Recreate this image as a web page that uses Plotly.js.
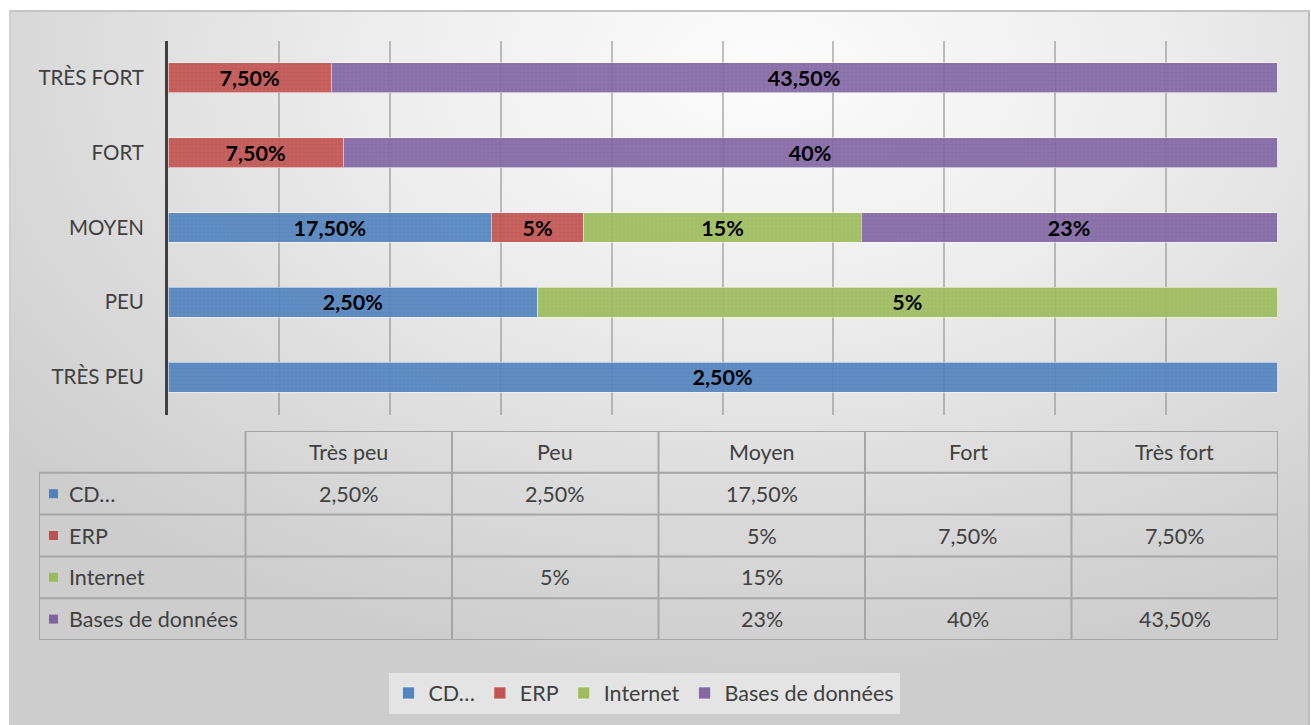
<!DOCTYPE html>
<html>
<head>
<meta charset="utf-8">
<script src="https://cdn.plot.ly/plotly-3.0.1.min.js"></script>
<style>
  html, body { margin: 0; padding: 0; background: #ffffff; width: 1311px; height: 725px; overflow: hidden; }
  #bg { position: absolute; left: 9px; top: 10px; width: 1297px; height: 715px;
        border-top: 2px solid #c6c6c6; border-left: 2px solid #cfcfcf; border-right: 2px solid #bdbdbd;
        background: radial-gradient(ellipse 75% 85% at 58% 8%, #fcfcfc 0%, #ededed 40%, #dcdcdc 70%, #cdcdcd 100%); }
  #chart { position: absolute; left: 0; top: 0; width: 1311px; height: 725px; }
</style>
</head>
<body>
<div id="bg"></div>
<div id="chart"></div>
<script>
// ---- data ----
const categories = ['Très peu', 'Peu', 'Moyen', 'Fort', 'Très fort'];
const axisLabels = ['TRÈS PEU', 'PEU', 'MOYEN', 'FORT', 'TRÈS FORT'];
const seriesNames = ['CD…', 'ERP', 'Internet', 'Bases de données'];
const cdValues       = [2.5, 2.5, 17.5, null, null];
const erpValues      = [null, null, 5, 7.5, 7.5];
const internetValues = [null, 5, 15, null, null];
const bddValues      = [null, null, 22.5, 40, 43.5];
const cdLabels       = ['2,50%', '2,50%', '17,50%', '', ''];
const erpLabels      = ['', '', '5%', '7,50%', '7,50%'];
const internetLabels = ['', '5%', '15%', '', ''];
const bddLabels      = ['', '', '23%', '40%', '43,50%'];
const seriesColors = ['#4F81BD', '#C0504D', '#9BBB59', '#8064A2'];

const allValues = [cdValues, erpValues, internetValues, bddValues];
const allLabels = [cdLabels, erpLabels, internetLabels, bddLabels];

const FONT = 'Lato, "Open Sans", "DejaVu Sans", sans-serif';
const TXT = '#404040';
const FS = 21.5;

const traces = [];
allValues.forEach((vals, s) => {
  traces.push({
    type: 'bar', orientation: 'h',
    name: seriesNames[s],
    y: axisLabels, x: vals,
    text: allLabels[s], texttemplate: '%{text}',
    textposition: 'inside', insidetextanchor: 'middle', constraintext: 'none',
    textfont: { family: FONT, size: FS, color: '#000000', weight: 'bold' },
    marker: {
      color: seriesColors[s], opacity: 0.92,
      line: { color: 'rgba(255,255,255,0.55)', width: 1 },
      pattern: { shape: '+', size: 4, solidity: 0.15, fgcolor: 'rgba(255,255,255,0.35)', fillmode: 'overlay' }
    },
    hoverinfo: 'skip',
    xaxis: 'x', yaxis: 'y'
  });
});

// legend keys inside the data table
traces.push({
  type: 'scatter', mode: 'markers',
  x: seriesNames.map(() => 0.07),
  y: seriesNames.map((_, i) => i + 1.5),
  marker: { symbol: 'square', size: 9, color: seriesColors, line: { width: 0 } },
  showlegend: false, hoverinfo: 'skip',
  xaxis: 'x2', yaxis: 'y2'
});

// ---- data table (shapes + annotations on x2/y2) ----
const nCols = categories.length + 1;
const nRows = seriesNames.length + 1;
const shapes = [];
const annotations = [];
const gridLine = { color: '#a6a6a6', width: 2 };
for (let r = 0; r <= nRows; r++) {
  shapes.push({ type: 'line', xref: 'x2', yref: 'y2', x0: r === 0 ? 1 : 0, x1: nCols, y0: r, y1: r, line: gridLine, layer: 'above' });
}
for (let c = 0; c <= nCols; c++) {
  shapes.push({ type: 'line', xref: 'x2', yref: 'y2', x0: c, x1: c, y0: c === 0 ? 1 : 0, y1: nRows, line: gridLine, layer: 'above' });
}
categories.forEach((cat, i) => {
  annotations.push({ xref: 'x2', yref: 'y2', x: i + 1.5, y: 0.5, text: cat, showarrow: false,
    font: { family: FONT, size: FS, color: TXT }, xanchor: 'center', yanchor: 'middle' });
});
seriesNames.forEach((nm, s) => {
  annotations.push({ xref: 'x2', yref: 'y2', x: 0.135, y: s + 1.5, text: nm, showarrow: false,
    font: { family: FONT, size: FS, color: TXT }, xanchor: 'left', yanchor: 'middle' });
  allValues[s].forEach((v, i) => {
    if (v === null) return;
    annotations.push({ xref: 'x2', yref: 'y2', x: i + 1.5, y: s + 1.5, text: allLabels[s][i], showarrow: false,
      font: { family: FONT, size: FS, color: TXT }, xanchor: 'center', yanchor: 'middle' });
  });
});

const W = 1311, H = 725;
const layout = {
  width: W, height: H,
  margin: { l: 0, r: 0, t: 0, b: 0 },
  paper_bgcolor: 'rgba(0,0,0,0)', plot_bgcolor: 'rgba(0,0,0,0)',
  barmode: 'stack', barnorm: 'percent', bargap: 0.6,
  font: { family: FONT, color: TXT, size: FS },
  xaxis: {
    domain: [168 / W, 1277 / W], range: [0, 100], dtick: 10, tick0: 0,
    showticklabels: false, showgrid: true, gridcolor: 'rgba(140,140,140,0.55)', gridwidth: 2,
    zeroline: false, showline: false, fixedrange: true
  },
  yaxis: {
    domain: [(H - 414.5) / H, (H - 40.5) / H],
    type: 'category', categoryorder: 'array', categoryarray: axisLabels,
    showline: true, linecolor: '#404040', linewidth: 3,
    ticks: '', ticklabelstandoff: 17,
    tickfont: { family: FONT, size: FS - 1, color: TXT },
    showgrid: false, zeroline: false, fixedrange: true
  },
  xaxis2: { domain: [39 / W, 1278 / W], range: [0, nCols], visible: false, fixedrange: true, anchor: 'y2' },
  yaxis2: { domain: [(H - 640) / H, (H - 431) / H], range: [nRows, 0], visible: false, fixedrange: true, anchor: 'x2' },
  shapes: shapes,
  annotations: annotations,
  showlegend: true,
  legend: {
    orientation: 'h', x: 644 / W, xanchor: 'center', y: (H - 693) / H, yanchor: 'middle',
    bgcolor: 'rgba(232,232,232,0.85)', font: { family: FONT, size: FS, color: TXT },
    traceorder: 'normal', itemwidth: 30
  }
};

Plotly.newPlot('chart', traces, layout, { displayModeBar: false, staticPlot: true });
</script>
</body>
</html>
